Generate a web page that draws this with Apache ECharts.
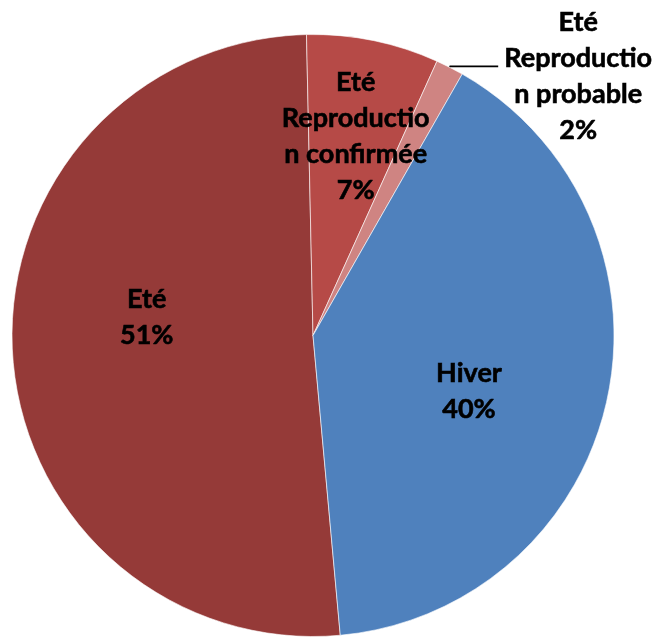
<!DOCTYPE html>
<html>
<head>
<meta charset="utf-8">
<script src="https://cdn.jsdelivr.net/npm/echarts@6/dist/echarts.min.js"></script>
<style>
  html, body { margin: 0; padding: 0; background: #fff; }
  #chart { width: 656px; height: 637px; }
</style>
</head>
<body>
<div id="chart"></div>
<script>
// Share of observations by season (percent)
const categories = ['Eté', 'Eté Reproduction confirmée', 'Eté Reproduction probable', 'Hiver'];
const values = [51.1, 7.1, 1.5, 40.3];
// Label text as wrapped in the slice labels
const labelLines = ['Eté', 'Eté\nReproductio\nn confirmée', 'Eté\nReproductio\nn probable', 'Hiver'];

const colors = ['#953a38', '#b64a47', '#cf8482', '#4f81bd'];
const outsideIndex = 2;
// fine offsets of the inside labels from their default spot
const labelShift = [[-13, -27], [12, -49], null, [6, 23]];

const textStyle = {
  color: '#000',
  fontFamily: 'Lato',
  fontWeight: 'bold',
  fontSize: 27,
  lineHeight: 36,
  textBorderColor: '#000',
  textBorderWidth: 0.6
};

const chart = echarts.init(document.getElementById('chart'), null, { renderer: 'canvas' });

const data = categories.map((name, i) => {
  const item = {
    name: name,
    value: values[i],
    itemStyle: { color: colors[i] }
  };
  if (i === outsideIndex) {
    item.label = {
      position: 'outside',
      distanceToLabelLine: 5,
      padding: [20, 0, 0, 0],
      formatter: p => '{c|' + labelLines[p.dataIndex] + '\n' + p.percent + '%}'
    };
    item.labelLine = { show: true, length: 1, length2: 48, lineStyle: { color: '#000', width: 1.8 } };
  } else {
    item.labelLine = { show: false };
  }
  return item;
});

chart.setOption({
  animation: false,
  backgroundColor: '#fff',
  series: [{
    type: 'pie',
    left: 0, top: 0, right: -120, bottom: 0,
    center: [313, 335.5],
    radius: [0, 301],
    startAngle: -84.8,
    clockwise: true,
    percentPrecision: 0,
    avoidLabelOverlap: false,
    itemStyle: { borderColor: 'rgba(255,255,255,0.75)', borderWidth: 0.8 },
    label: Object.assign({
      show: true,
      position: 'inside',
      bleedMargin: 0,
      formatter: p => labelLines[p.dataIndex] + '\n' + p.percent + '%',
      rich: {
        c: Object.assign({ width: 150, align: 'center' }, textStyle)
      }
    }, textStyle),
    labelLayout: function (params) {
      const s = labelShift[params.dataIndex];
      if (!s) return;
      return { dx: s[0], dy: s[1] };
    },
    emphasis: { disabled: true },
    data: data
  }]
});
</script>
</body>
</html>
